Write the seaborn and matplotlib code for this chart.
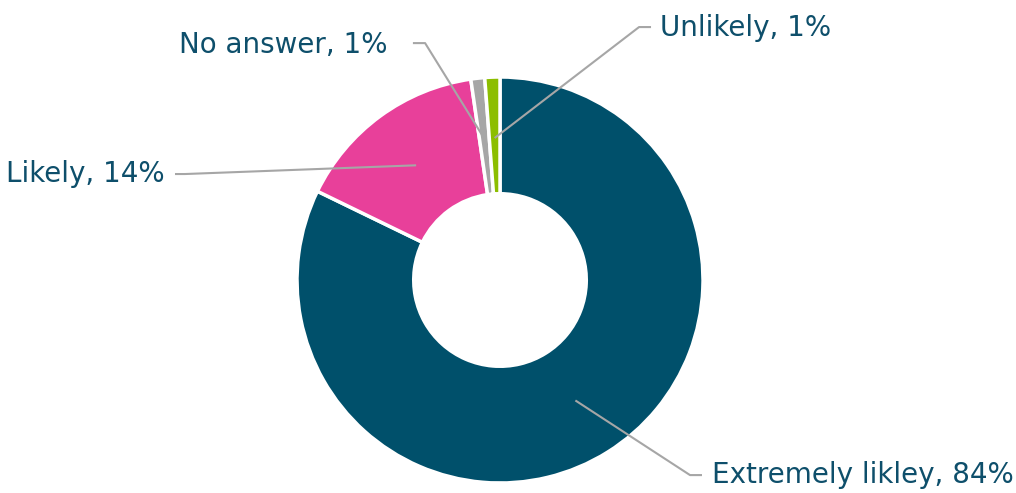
import numpy as np
import matplotlib.pyplot as plt
import seaborn as sns

# Datos del gráfico (sentido horario desde arriba)
categorias = ['Extremely likley', 'Likely', 'No answer', 'Unlikely']
porcentajes = [84, 14, 1, 1]            # texto de las etiquetas
proporciones = [82.2, 15.5, 1.1, 1.2]   # tamaño de cada sector
colores = ['#00506B', '#E8409A', '#A6A6A6', '#8CBE00']

sns.set_theme(style='white')
plt.rcParams['font.family'] = ['DejaVu Sans']
paleta = sns.color_palette(colores)

fig = plt.figure(figsize=(10.16, 4.93), dpi=100)
ax = fig.add_axes([0, 0, 1, 1])

wedges, _ = ax.pie(proporciones, colors=paleta, startangle=90, counterclock=False,
                   radius=1, wedgeprops=dict(width=0.575, edgecolor='white', linewidth=2.5))

# posición de las etiquetas (codo de la línea guía, fin del tramo horizontal, texto)
layout = {
    'Extremely likley': ((0.936, -0.961), (0.995, -0.961), (1.044, -0.961), 'left'),
    'Likely': ((-1.552, 0.522), (-1.601, 0.522), (-1.650, 0.522), 'right'),
    'No answer': ((-0.369, 1.167), (-0.429, 1.167), (-0.552, 1.160), 'right'),
    'Unlikely': ((0.685, 1.246), (0.744, 1.246), (0.788, 1.241), 'left'),
}

color_texto = '#0E4F6B'
color_linea = '#A6A6A6'
for w, cat, pct in zip(wedges, categorias, porcentajes):
    ang = np.deg2rad((w.theta1 + w.theta2) / 2)
    ax_x, ax_y = 0.70 * np.cos(ang), 0.70 * np.sin(ang)
    codo, fin, texto, ha = layout[cat]
    # línea guía: del sector al codo y tramo horizontal
    ax.plot([ax_x, codo[0], fin[0]], [ax_y, codo[1], fin[1]],
            color=color_linea, lw=1.5, solid_capstyle='butt', zorder=5)
    ax.text(texto[0], texto[1], f'{cat}, {pct}%', ha=ha, va='center',
            fontsize=20, color=color_texto)

ax.set_xlim(-500 / 203, 516 / 203)
ax.set_ylim(-213 / 203, 280 / 203)
ax.set_aspect('equal', adjustable='box')
ax.axis('off')

plt.savefig('out.png', dpi=100)
